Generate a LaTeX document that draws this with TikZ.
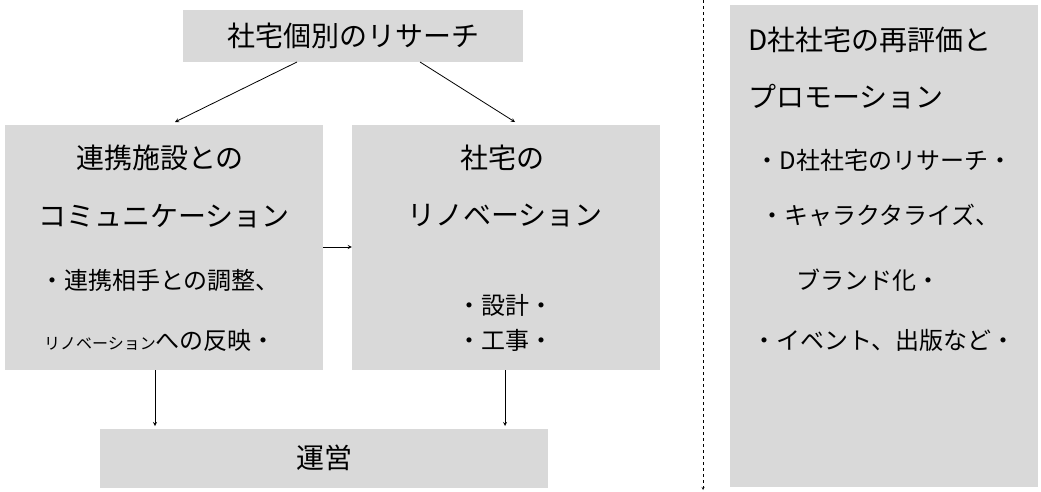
\documentclass[tikz,border=0pt]{standalone}
\usepackage{fontspec}
\newfontfamily\jp{Noto Sans CJK JP}
\usetikzlibrary{positioning}
\definecolor{boxgray}{RGB}{217,217,217}
\begin{document}
\begin{tikzpicture}
[x=1pt,y=-1pt,
 box/.style={rectangle,fill=boxgray,draw=none,inner sep=0pt},
 big/.style={font=\jp\fontsize{28}{30}\selectfont,inner sep=0pt},
 sml/.style={font=\jp\fontsize{24}{26}\selectfont,inner sep=0pt},
 arr/.style={->,>=stealth,thick}]
\useasboundingbox (0,0) rectangle (1041,491);
% boxes
\node[box,minimum width=340pt,minimum height=52pt] (top) at (353,36) {};
\node[box,minimum width=318pt,minimum height=245pt] (left) at (164,247) {};
\node[box,minimum width=308pt,minimum height=245pt] (mid) at (506,247) {};
\node[box,minimum width=448pt,minimum height=59pt] (ops) at (324,458) {};
\node[box,minimum width=308pt,minimum height=482pt] (right) at (884,246) {};
% texts
\node[big] (tTop) at (353,36) {社宅個別のリサーチ};
\node[big] (tL1) at (160,158) {連携施設との};
\node[big] (tL2) at (164,216) {コミュニケーション};
\node[sml] (tL3) at (160,280) {・連携相手との調整、};
\node[sml] (tL4) at (160,340) {{\fontsize{16}{18}\selectfont リノベーション}への反映・};
\node[big] (tM1) at (502,158) {社宅の};
\node[big] (tM2) at (505,216) {リノベーション};
\node[sml] (tM3) at (505,305) {・設計・};
\node[sml] (tM4) at (505,340) {・工事・};
\node[big] (tOps) at (324,458) {運営};
\node[big,anchor=west] (tR1) at (748,40) {D社社宅の再評価と};
\node[big,anchor=west] (tR2) at (748,97) {プロモーション};
\node[sml] (tR3) at (884,160) {・D社社宅のリサーチ・};
\node[sml] (tR4) at (880,215) {・キャラクタライズ、};
\node[sml] (tR5) at (868,280) {ブランド化・};
\node[sml] (tR6) at (884,340) {・イベント、出版など・};
% connectors
\coordinate (tA) at (297,62);
\coordinate (tB) at (420,62);
\coordinate (lA) at (175,122);
\coordinate (mA) at (515,122);
\draw[arr] (tA) -- (lA);
\draw[arr] (tB) -- (mA);
\draw[arr] (left.east) -- (mid.west);
\draw[arr] (155,370) -- (155,426);
\draw[arr] (505,370) -- (505,426);
\coordinate (dTop) at (703,0);
\coordinate (dBot) at (703,490);
\draw[arr,dashed,thin] (dTop) -- (dBot);
\end{tikzpicture}
\end{document}
